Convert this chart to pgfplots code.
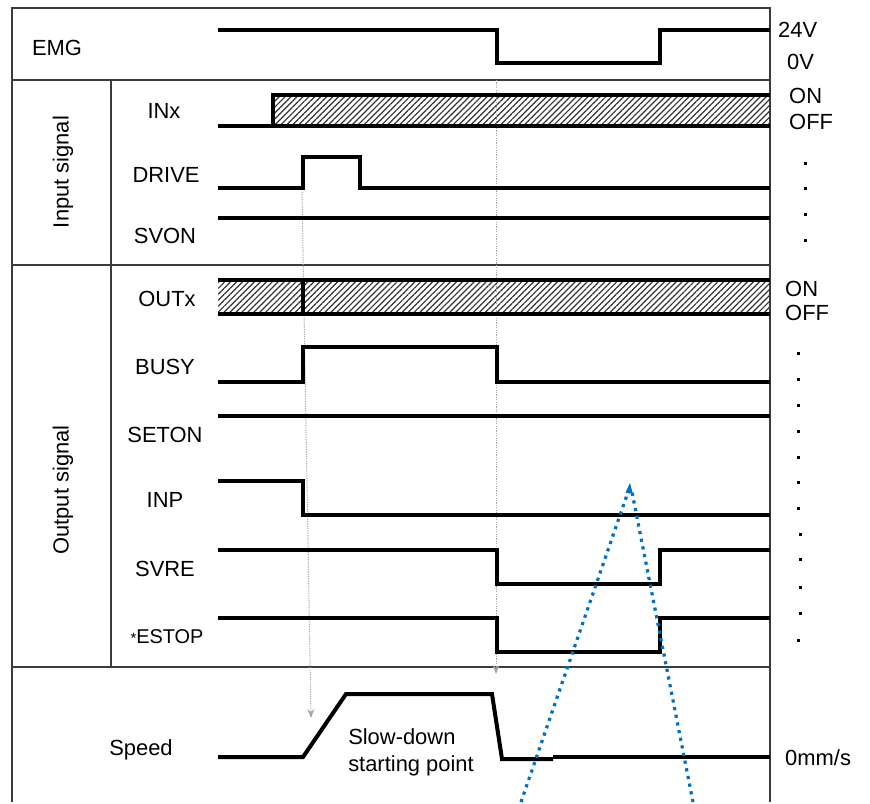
\documentclass[border=0pt]{standalone}
\usepackage{pgfplots}
\pgfplotsset{compat=1.18}
\usepackage{fontspec}
\setmainfont{Liberation Sans}
\usetikzlibrary{patterns.meta,arrows.meta}
\definecolor{frame}{RGB}{60,60,60}
\definecolor{mblue}{RGB}{0,112,192}
\tikzset{t/.style={font=\fontsize{22}{26}\selectfont, inner sep=0pt}}
\begin{document}
\begin{tikzpicture}
\begin{axis}[
  scale only axis, width=870bp, height=802bp,
  xmin=0, xmax=870, ymin=0, ymax=802, y dir=reverse,
  hide axis, clip=false,
  sig/.style={black, line width=4bp, line join=miter, mark=none},
  frm/.style={frame, line width=1.8bp, mark=none},
  hatch/.style={draw=none, mark=none, pattern={Lines[angle=45,distance=4.2bp,line width=1.2bp]}, pattern color=black!80},
]
% bounding box
\addplot[draw=none] coordinates {(0,0)(870,0)(870,802)(0,802)};
% frame
\addplot[frm] coordinates {(12,802)(12,8)(770,8)(770,802)};
\addplot[frm] coordinates {(12,80)(770,80)};
\addplot[frm] coordinates {(12,265)(770,265)};
\addplot[frm] coordinates {(12,667)(770,667)};
\addplot[frm] coordinates {(111,80)(111,667)};
% hatched bands
\addplot[hatch] coordinates {(273,95)(770,95)(770,126)(273,126)} --cycle;
\addplot[hatch] coordinates {(218,280)(770,280)(770,314)(218,314)} --cycle;
% gray guide arrows
\addplot[gray!70, line width=1bp, dash pattern=on 1.2bp off 1.2bp, mark=none, -{Stealth[length=9bp,width=7bp]}] coordinates {(302,192)(311,718)};
\addplot[gray!70, line width=1bp, dash pattern=on 1.2bp off 1.2bp, mark=none, -{Stealth[length=9bp,width=7bp]}] coordinates {(496,80)(496,674)};
% signals
\addplot[sig] coordinates {(218,30)(497,30)(497,63)(660,63)(660,30)(770,30)};
\addplot[sig] coordinates {(218,126)(273,126)(273,95)(770,95)};
\addplot[sig] coordinates {(273,126)(770,126)};
\addplot[sig] coordinates {(218,188)(303,188)(303,157)(360,157)(360,188)(770,188)};
\addplot[sig] coordinates {(218,218)(770,218)};
\addplot[sig] coordinates {(218,280)(770,280)};
\addplot[sig] coordinates {(218,314)(770,314)};
\addplot[sig] coordinates {(303,280)(303,314)};
\addplot[sig] coordinates {(218,382)(303,382)(303,347)(497,347)(497,382)(770,382)};
\addplot[sig] coordinates {(218,416)(770,416)};
\addplot[sig] coordinates {(218,481)(303,481)(303,515)(770,515)};
\addplot[sig] coordinates {(218,550)(497,550)(497,584)(660,584)(660,550)(770,550)};
\addplot[sig] coordinates {(218,618)(497,618)(497,652)(660,652)(660,618)(770,618)};
\addplot[sig] coordinates {(218,757)(303,757)(346,694)(492,694)(502,759)(553,759)};
\addplot[sig] coordinates {(553,757)(770,757)};
% blue dotted arrow
\addplot[mblue, line width=3.2bp, dash pattern=on 3.2bp off 4.6bp, mark=none] coordinates {(521,802)(628,492)};
\addplot[mblue, line width=3.2bp, dash pattern=on 3.2bp off 4.6bp, mark=none] coordinates {(693,802)(632,492)};
\addplot[mblue, line width=1bp, mark=none, -{Triangle[length=10bp,width=7bp]}] coordinates {(629,494)(630,483)};
% left labels
\node[t] at (axis cs:57,48) {EMG};
\node[t, rotate=90] at (axis cs:63,172) {Input signal};
\node[t, rotate=90] at (axis cs:63,490) {Output signal};
\node[t] at (axis cs:164,111) {INx};
\node[t] at (axis cs:166,175) {DRIVE};
\node[t] at (axis cs:165,236) {SVON};
\node[t] at (axis cs:167,299) {OUTx};
\node[t] at (axis cs:165,367) {BUSY};
\node[t] at (axis cs:165,435) {SETON};
\node[t] at (axis cs:165,500) {INP};
\node[t] at (axis cs:165,569) {SVRE};
\node[t] at (axis cs:167,637) {{\fontsize{15}{15}\selectfont *}{\fontsize{20}{24}\selectfont ESTOP}};
\node[t] at (axis cs:141,750) {Speed};
\node[t, align=left, font=\fontsize{22}{27}\selectfont] at (axis cs:411,752) {Slow-down\\starting point};
% right labels
\node[t, anchor=west] at (axis cs:778,30) {24V};
\node[t, anchor=west] at (axis cs:787,62) {0V};
\node[t, anchor=west] at (axis cs:789,96) {ON};
\node[t, anchor=west] at (axis cs:789,122) {OFF};
\node[t, anchor=west] at (axis cs:785,289) {ON};
\node[t, anchor=west] at (axis cs:785,313) {OFF};
\node[t, anchor=west] at (axis cs:785,758) {0mm/s};
\addplot[only marks, mark=square*, mark size=1.3bp, black] coordinates {(805,163)(805,188)(805,214)(805,240)};
\addplot[only marks, mark=square*, mark size=1.3bp, black] coordinates {(798,353)(798,379)(798,405)(798,431)(798,457)(798,482)(798,508)(800,534)(800,559)(800,587)(800,613)(798,640)};
\end{axis}
\end{tikzpicture}
\end{document}
